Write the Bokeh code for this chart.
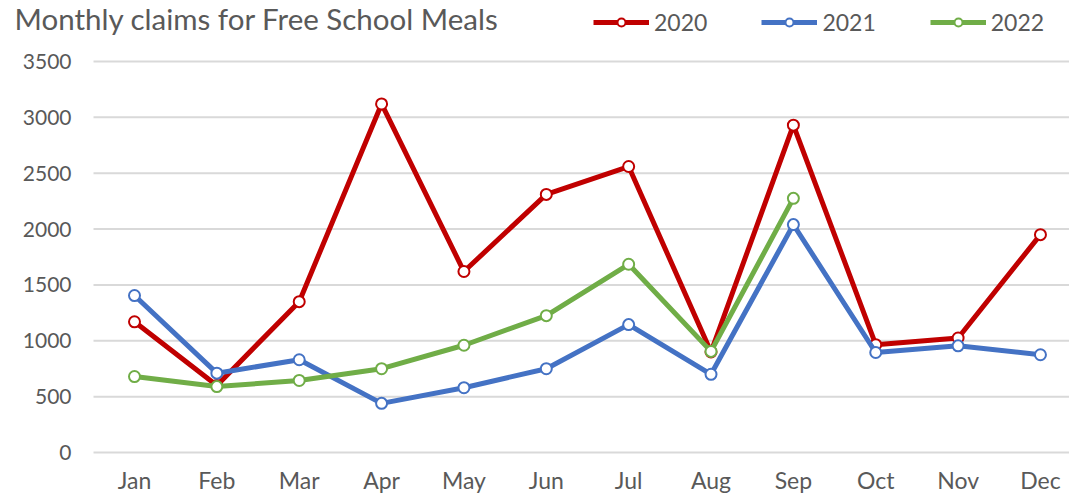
from bokeh.plotting import figure
from bokeh.models import Range1d, FixedTicker, Legend, LegendItem, Label
from bokeh.core.properties import value
from bokeh.embed import file_html
from bokeh.resources import INLINE

months = ["Jan", "Feb", "Mar", "Apr", "May", "Jun", "Jul", "Aug", "Sep", "Oct", "Nov", "Dec"]
claims_2020 = [1170, 600, 1350, 3120, 1620, 2310, 2560, 900, 2930, 965, 1025, 1950]
claims_2021 = [1405, 710, 830, 440, 580, 750, 1145, 700, 2040, 895, 955, 875]
claims_2022 = [680, 590, 645, 750, 960, 1225, 1685, 905, 2275]
y_ticks = [0, 500, 1000, 1500, 2000, 2500, 3000, 3500]
y_tick_labels = [str(t) for t in y_ticks]
title_text = "Monthly claims for Free School Meals"

series = [
    ("2020", claims_2020, "#C00000"),
    ("2021", claims_2021, "#4472C4"),
    ("2022", claims_2022, "#70AD47"),
]

FONT = "Lato"
GREY = "#595959"

# layout geometry (pixels): frame spans the whole canvas except the x-axis strip
W, H, BOTTOM = 1069, 499, 34
FRAME_H = H - BOTTOM            # 465
ZERO_PX = 452                   # pixel row of the value 0
PX_PER_MONTH = 82.36
PX_PER_UNIT_Y = 391 / 3500      # 3500 sits at pixel row 61
X0 = 1 - 134 / PX_PER_MONTH     # data x at the left canvas edge
X1 = X0 + W / PX_PER_MONTH
Y0 = -(FRAME_H - ZERO_PX) / PX_PER_UNIT_Y
Y1 = ZERO_PX / PX_PER_UNIT_Y
def px_x(px):
    return X0 + px / PX_PER_MONTH
def px_y(py):
    return (ZERO_PX - py) / PX_PER_UNIT_Y

p = figure(width=W, height=H, output_backend="svg", toolbar_location=None,
           x_range=Range1d(X0, X1), y_range=Range1d(Y0, Y1),
           min_border_left=0, min_border_right=0, min_border_top=0, min_border_bottom=BOTTOM)
p.outline_line_color = None
p.background_fill_color = "white"

# horizontal gridlines (start right of the value labels)
p.segment(x0=[px_x(93)] * len(y_ticks), x1=[X1] * len(y_ticks), y0=y_ticks, y1=y_ticks,
          line_color="#D9D9D9", line_width=2, level="underlay")
p.xgrid.visible = False
p.ygrid.visible = False
p.yaxis.visible = False

# value labels
p.text(x=[px_x(71)] * len(y_ticks), y=y_ticks, text=y_tick_labels,
       text_font=value(FONT), text_font_size="21px", text_color=GREY,
       text_align="right", text_baseline="middle")

positions = list(range(1, len(months) + 1))

items = []
for name, vals, color in series:
    xs = positions[:len(vals)]
    ln = p.line(xs, vals, line_color=color, line_width=5, line_join="round")
    sc = p.scatter(xs, vals, size=11, fill_color="white", line_color=color, line_width=2)
    items.append(LegendItem(label=name, renderers=[ln, sc]))

p.add_layout(Label(x=px_x(14), y=px_y(18), text=title_text, text_font=FONT,
                   text_font_size="29.5px", text_color=GREY,
                   text_baseline="alphabetic", text_align="left"))

legend = Legend(items=items, orientation="horizontal", location=(593, FRAME_H - 36),
                glyph_width=56, glyph_height=20, label_standoff=5, spacing=54,
                padding=0, margin=0, background_fill_alpha=0, border_line_alpha=0,
                label_text_font=FONT, label_text_font_size="23px", label_text_color=GREY)
p.add_layout(legend, "center")

p.xaxis.ticker = FixedTicker(ticks=positions)
p.xaxis.major_label_overrides = {i: m for i, m in zip(positions, months)}
p.xaxis.axis_line_color = None
p.xaxis.major_tick_line_color = None
p.xaxis.minor_tick_line_color = None
p.xaxis.major_tick_out = 0
p.xaxis.major_tick_in = 0
p.xaxis.minor_tick_out = 0
p.xaxis.major_label_text_font = FONT
p.xaxis.major_label_text_color = GREY
p.xaxis.major_label_text_font_size = "23px"
p.xaxis.major_label_standoff = 0

open("out.html", "w").write(file_html(p, INLINE))
